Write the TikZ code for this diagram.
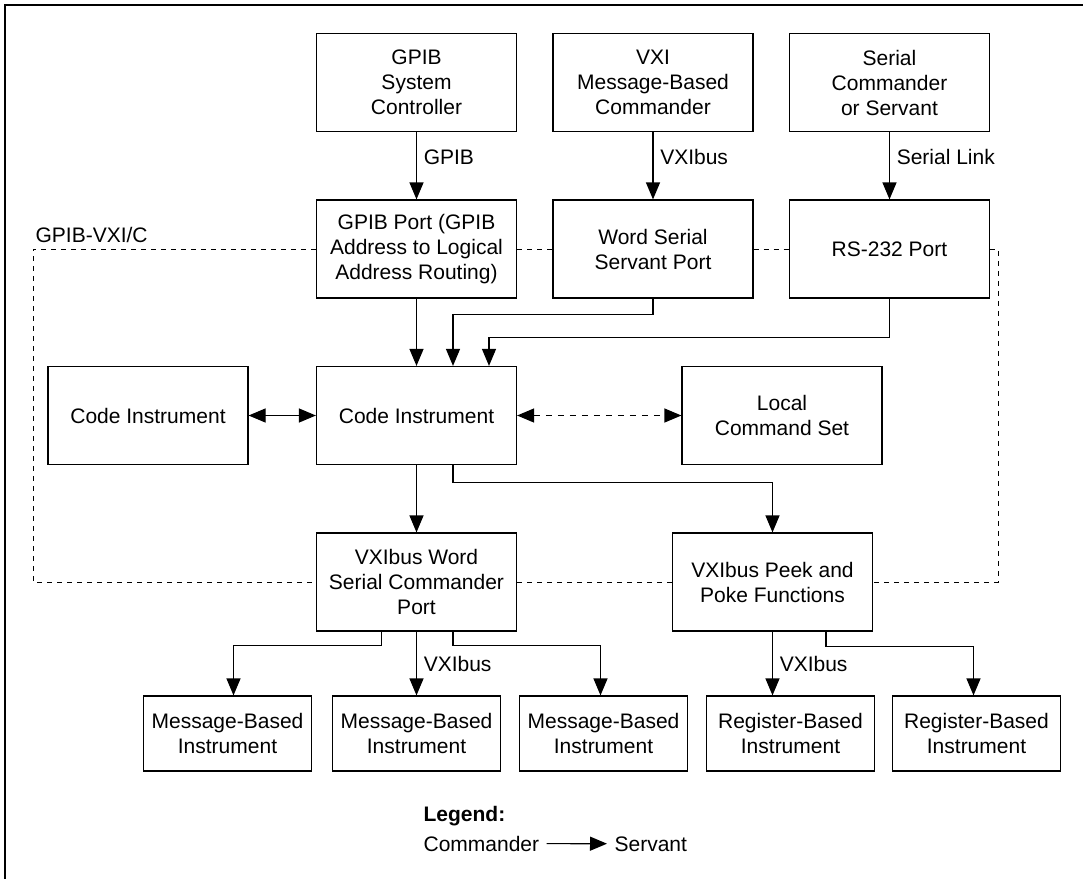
\documentclass[tikz,border=0pt]{standalone}
\usepackage{fontspec}
\setmainfont{Liberation Sans}
\usetikzlibrary{arrows.meta, positioning, calc}

\begin{document}
\begin{tikzpicture}[x=0.5pt, y=-0.5pt, node distance=83.25pt,
        font=\fontsize{10.5}{12.5}\selectfont,
        >={Triangle[length=8.5pt, width=7pt]}, line width=0.6pt]
        \tikzstyle{prog}=[draw, rectangle, minimum width=100pt, minimum height=49pt, align=center, inner sep=2pt];
        \tikzstyle{inst}=[prog, minimum width=84pt, minimum height=37.5pt];
        \tikzstyle{bound}=[line width=0.5pt, dash pattern=on 2.5pt off 2.5pt];
        \useasboundingbox (0,0) rectangle (1083,879);
        \draw[line width=1pt] (1083,5) -- (5,5) -- (5,879);

        \node[prog] (gpibsc) at (416.5,82.5) {GPIB\\System\\Controller};
        \node[prog, right of=gpibsc, xshift=35pt] (vxicmd) {VXI\\Message-Based\\Commander};
        \node[prog, right of=vxicmd, xshift=35pt] (sercmd) {Serial\\Commander\\or Servant};
        \node[prog, below of=gpibsc] (gpibport) {GPIB Port (GPIB\\Address to Logical\\Address Routing)};
        \node[prog, below of=vxicmd] (wsport) {Word Serial\\Servant Port};
        \node[prog, below of=sercmd] (rsport) {RS-232 Port};
        \node[prog, below of=gpibport] (codei) {Code Instrument};
        \node[prog, left of=codei, xshift=-51pt] (codel) {Code Instrument};
        \node[prog, right of=codei, xshift=99.5pt] (localcs) {Local\\Command Set};
        \node[prog, below of=codei] (wscmd) {VXIbus Word\\Serial Commander\\Port};
        \node[prog, right of=wscmd, xshift=94.75pt] (peek) {VXIbus Peek and\\Poke Functions};
        \node[inst, below of=wscmd, yshift=7.5pt] (msg2) {Message-Based\\Instrument};
        \node[inst, left of=msg2, xshift=-11.25pt] (msg1) {Message-Based\\Instrument};
        \node[inst, right of=msg2, xshift=10.25pt] (msg3) {Message-Based\\Instrument};
        \node[inst, right of=msg3, xshift=10.25pt] (reg1) {Register-Based\\Instrument};
        \node[inst, right of=reg1, xshift=9.75pt] (reg2) {Register-Based\\Instrument};

        \coordinate (bl) at (33,250);
        \coordinate (br) at (998,250);
        \node[anchor=base west, inner sep=0pt] (gvlabel) at (35,242) {GPIB-VXI/C};
        \draw[bound] (gpibport.west) -- (gpibport.west -| bl) -- (wscmd.west -| bl) -- (wscmd.west);
        \draw[bound] (gpibport.east) -- (wsport.west);
        \draw[bound] (wsport.east) -- (rsport.west);
        \draw[bound] (rsport.east) -- (rsport.east -| br) -- (peek.east -| br) -- (peek.east);
        \draw[bound] (wscmd.east) -- (peek.west);

        \path[->]
        (gpibsc) edge node[right, pos=.37] {GPIB} (gpibport)
        (vxicmd) edge node[right, pos=.37] {VXIbus} (wsport)
        (sercmd) edge node[right, pos=.37] {Serial Link} (rsport)
        (gpibport) edge (codei)
        (codei) edge (wscmd)
        (wscmd) edge node[right] {VXIbus} (msg2);
        \path[<->]
        (codel) edge (codei)
        (codei) edge[dash pattern=on 3pt off 3pt] (localcs);

        \draw[->] (wsport.south) -- ++(0,16) -| ([xshift=18.25pt]codei.north);
        \draw[->] (rsport.south) -- ++(0,39) -| ([xshift=36.25pt]codei.north);
        \draw[->] ([xshift=18.25pt]codei.south) -- ++(0,17) -| (peek.north);
        \draw[->] ([xshift=-17.5pt]wscmd.south) -- ++(0,14) -| ([xshift=3pt]msg1.north);
        \draw[->] ([xshift=18.25pt]wscmd.south) -- ++(0,14) -| ([xshift=-1.5pt]msg3.north);
        \draw[->] (peek.south) -- (peek.south |- reg1.north) node[midway, right] {VXIbus};
        \draw[->] ([xshift=26.75pt]peek.south) -- ++(0,15) -| ([xshift=-1.5pt]reg2.north);

        \node[anchor=base west, inner sep=0pt, font=\fontsize{10.5}{12.5}\selectfont\bfseries] (legend) at (423,821) {Legend:};
        \node[anchor=base west, inner sep=3.5pt] (cmdr) at (416,851) {Commander};
        \node[anchor=base west, inner sep=3.5pt] (servt) at (607,851) {Servant};
        \draw[->] (cmdr) -- (servt);
\end{tikzpicture}
\end{document}
